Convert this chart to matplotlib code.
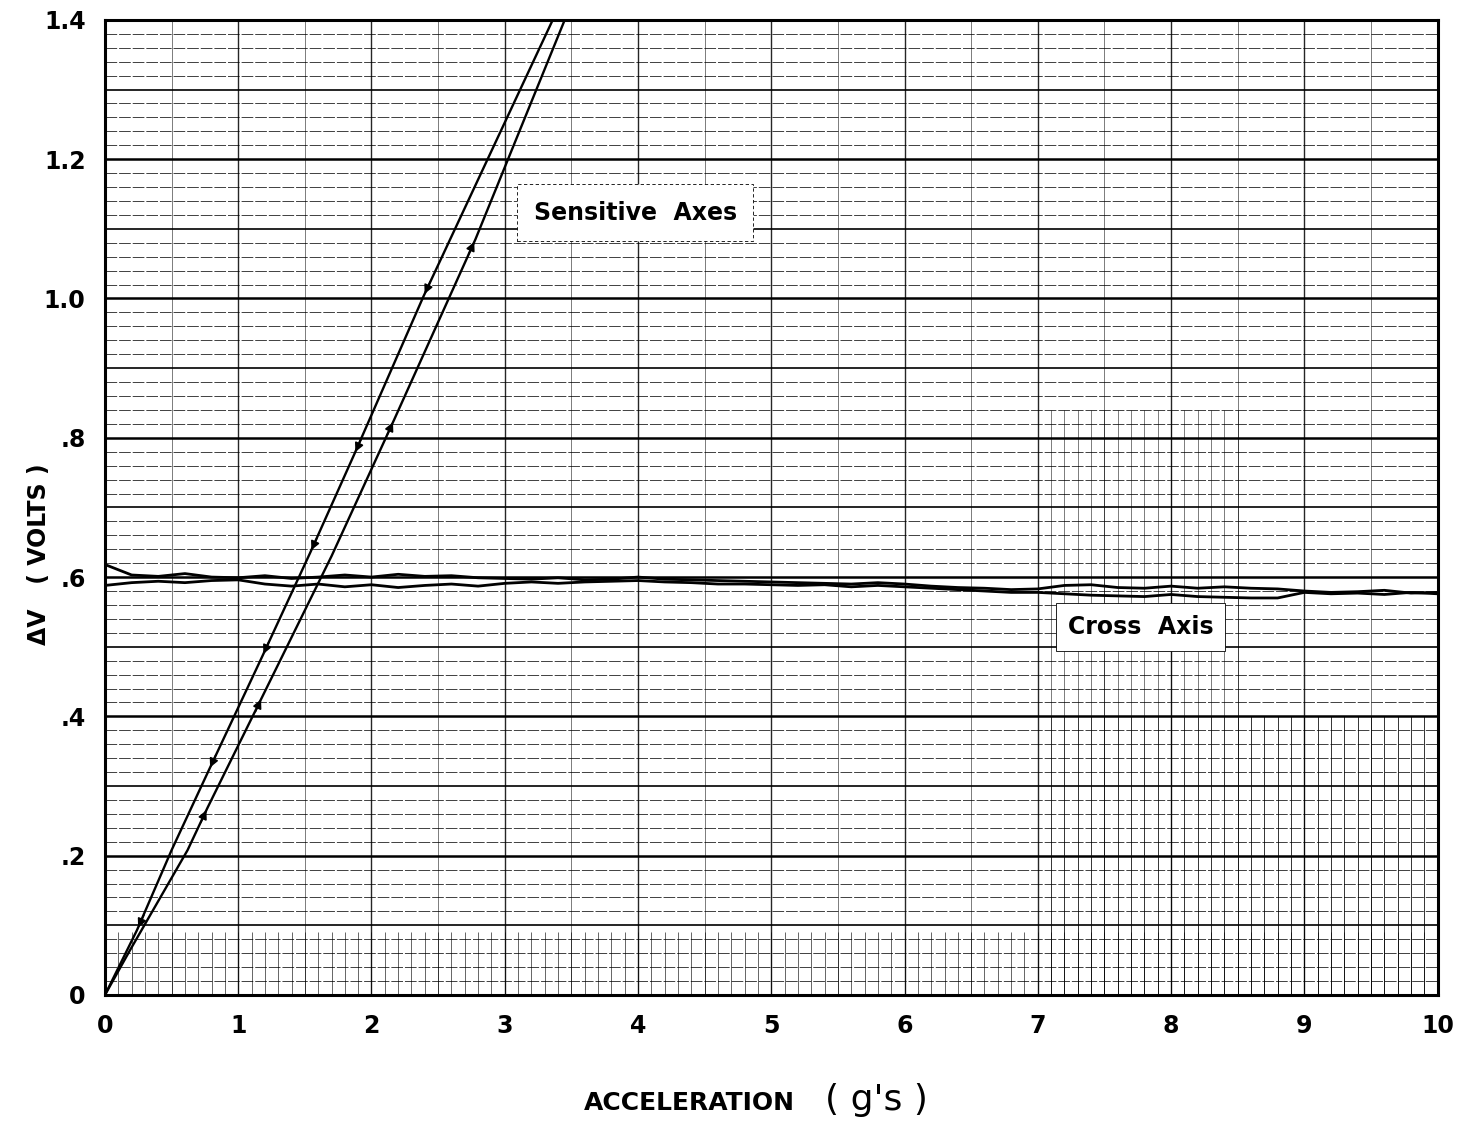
import numpy as np
import matplotlib
matplotlib.use("Agg")
import matplotlib.pyplot as plt

# ---- data ----
# sensitive axis, decreasing branch (upper) and increasing branch (lower)
sens_down_x = [0.0, 0.24, 0.50, 0.78, 1.18, 1.54, 1.87, 2.39, 3.36]
sens_down_y = [0.0, 0.093, 0.208, 0.323, 0.486, 0.635, 0.776, 1.003, 1.40]
sens_up_x = [0.0, 0.19, 0.62, 0.77, 1.18, 1.70, 2.17, 2.78, 3.45]
sens_up_y = [0.0, 0.065, 0.208, 0.269, 0.428, 0.630, 0.826, 1.085, 1.40]

# arrow marks along the sensitive traces
arr_down_x = [0.24, 0.78, 1.18, 1.54, 1.87, 2.39]
arr_down_y = [0.093, 0.323, 0.486, 0.635, 0.776, 1.003]
arr_up_x = [0.77, 1.18, 2.17, 2.78]
arr_up_y = [0.269, 0.428, 0.826, 1.085]

# cross axis traces
cross_x = [0.0, 0.2, 0.4, 0.6, 0.8, 1.0, 1.2, 1.4, 1.6, 1.8, 2.0, 2.2, 2.4, 2.6, 2.8,
           3.0, 3.2, 3.4, 3.6, 3.8, 4.0, 4.2, 4.4, 4.6, 4.8, 5.0, 5.2, 5.4, 5.6, 5.8,
           6.0, 6.2, 6.4, 6.6, 6.8, 7.0, 7.2, 7.4, 7.6, 7.8, 8.0, 8.2, 8.4, 8.6, 8.8,
           9.0, 9.2, 9.4, 9.6, 9.8, 10.0]
cross_a = [0.618, 0.603, 0.601, 0.605, 0.600, 0.599, 0.602, 0.598, 0.600, 0.603, 0.600,
           0.604, 0.601, 0.602, 0.599, 0.598, 0.597, 0.599, 0.596, 0.597, 0.600, 0.597,
           0.596, 0.595, 0.594, 0.593, 0.592, 0.591, 0.590, 0.592, 0.590, 0.587, 0.585,
           0.584, 0.582, 0.583, 0.588, 0.589, 0.585, 0.584, 0.587, 0.584, 0.586, 0.584,
           0.583, 0.580, 0.578, 0.579, 0.581, 0.577, 0.578]
cross_b = [0.588, 0.592, 0.594, 0.592, 0.595, 0.596, 0.590, 0.587, 0.590, 0.586, 0.589,
           0.585, 0.588, 0.590, 0.587, 0.591, 0.593, 0.591, 0.593, 0.594, 0.595, 0.593,
           0.592, 0.590, 0.590, 0.589, 0.588, 0.589, 0.586, 0.588, 0.586, 0.584, 0.582,
           0.580, 0.578, 0.578, 0.576, 0.574, 0.573, 0.572, 0.575, 0.572, 0.571, 0.570,
           0.570, 0.578, 0.576, 0.577, 0.575, 0.578, 0.576]

xticks = list(range(11))
xticklabels = ["0", "1", "2", "3", "4", "5", "6", "7", "8", "9", "10"]
yticks = [0.0, 0.2, 0.4, 0.6, 0.8, 1.0, 1.2, 1.4]
yticklabels = ["0", ".2", ".4", ".6", ".8", "1.0", "1.2", "1.4"]

fig = plt.figure(figsize=(14.58, 11.25), dpi=100)
ax = fig.add_axes([0.072, 0.1156, 0.914, 0.8667])
ax.set_xlim(0, 10)
ax.set_ylim(0, 1.4)

# ---- graph paper ----
for i in range(71):
    y = i * 0.02
    if i % 10 == 0:
        ax.axhline(y, color="black", lw=1.8, zorder=1)
    elif i % 5 == 0:
        ax.axhline(y, color="black", lw=1.2, zorder=1)
    else:
        ax.axhline(y, color="black", lw=0.7, ls=(0, (12, 2)), alpha=0.75, zorder=1)
for v in range(11):
    ax.axvline(v, color="black", lw=1.0, alpha=0.85, zorder=1)
for v in np.arange(0.5, 10, 1.0):
    ax.axvline(v, color="black", lw=0.6, alpha=0.6, zorder=1)
fine = np.arange(0.1, 10, 0.1)
ax.vlines(fine, 0, 0.09, color="black", lw=0.6, alpha=0.7, zorder=1)
fine_r = np.arange(7.1, 10, 0.1)
ax.vlines(fine_r, 0, 0.4, color="black", lw=0.7, alpha=0.8, zorder=1)
fine_m = np.arange(7.1, 8.5, 0.1)
ax.vlines(fine_m, 0.4, 0.84, color="black", lw=0.6, alpha=0.6, zorder=1)

# ---- traces ----
ax.plot(sens_down_x, sens_down_y, color="black", lw=1.7, zorder=3)
ax.plot(sens_up_x, sens_up_y, color="black", lw=1.7, zorder=3)
for x, y in zip(arr_down_x, arr_down_y):
    ax.annotate("", xy=(x, y), xytext=(x + 0.06, y + 0.025),
                arrowprops=dict(arrowstyle="-|>", color="black", lw=1.2, mutation_scale=13),
                zorder=4)
for x, y in zip(arr_up_x, arr_up_y):
    ax.annotate("", xy=(x, y), xytext=(x - 0.06, y - 0.025),
                arrowprops=dict(arrowstyle="-|>", color="black", lw=1.2, mutation_scale=13),
                zorder=4)
ax.plot(cross_x, cross_a, color="black", lw=2.0, zorder=3)
ax.plot(cross_x, cross_b, color="black", lw=2.0, zorder=3)

# ---- labels on the chart ----
box = dict(boxstyle="square,pad=0.7", fc="white", ec="black", lw=0.6, ls=(0, (4, 3)))
ax.text(3.98, 1.123, "Sensitive  Axes", ha="center", va="center", fontsize=17,
        fontweight="bold", bbox=box, zorder=5)
ax.text(7.77, 0.528, "Cross  Axis", ha="center", va="center", fontsize=17,
        fontweight="bold", bbox=dict(boxstyle="square,pad=0.5", fc="white", ec="black", lw=0.6),
        zorder=5)

# ---- axes ----
for s in ax.spines.values():
    s.set_linewidth(2.2)
ax.set_xticks(xticks)
ax.set_xticklabels(xticklabels, fontsize=17, fontweight="bold")
ax.set_yticks(yticks)
ax.set_yticklabels(yticklabels, fontsize=17, fontweight="bold")
ax.tick_params(length=0, pad=14)

fig.text(0.027, 0.507, "\u0394V   ( VOLTS )", rotation=90, ha="center", va="center",
         fontsize=17, fontweight="bold")
fig.text(0.473, 0.0196, "ACCELERATION", ha="center", va="center", fontsize=18, fontweight="bold")
fig.text(0.601, 0.022, "( g's )", ha="center", va="center", fontsize=26)

fig.savefig("out.png", dpi=100)
